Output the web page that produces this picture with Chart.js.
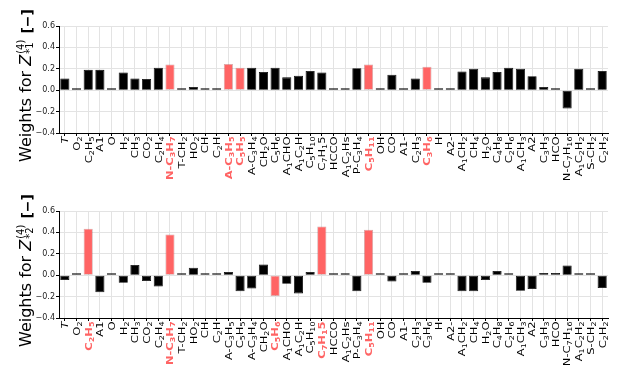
<!DOCTYPE html>
<html><head><meta charset="utf-8">
<script src="https://cdn.jsdelivr.net/npm/chart.js@4.4.1/dist/chart.umd.min.js"></script>
<style>
html,body{margin:0;padding:0;background:#fff;}
canvas{display:block;}
</style></head>
<body>
<canvas id="c1" width="619" height="185"></canvas>
<canvas id="c2" width="619" height="184"></canvas>
<script>
// "_x" = one subscript character, "_{xy}" = subscript group
const categories = ['T','O_2','C_2H_5','A1','O','H_2','CH_3','CO_2','C_2H_4','N-C_3H_7','T-CH_2','HO_2','CH','C_2H','A-C_3H_5','C_5H_5','A-C_3H_4','CH_2O','C_5H_6','A_1CHO','A_1C_2H','C_5H_{10}','C_7H_15','HCCO','A_1C_2Hs','P-C_3H_4','C_5H_{11}','OH','CO','A1-','C_2H_3','C_3H_6','H','A2-','A_1CH_2','CH_4','H_2O','C_4H_8','C_2H_6','A_1CH_3','A2','C_3H_3','HCO','N-C_7H_{16}','A_1C_2H_2','S-CH_2','C_2H_2'];

const weightsZ1 = [0.11,0.01,0.19,0.19,0.01,0.165,0.11,0.105,0.21,0.24,0.01,0.03,0.01,0.01,0.245,0.21,0.21,0.17,0.21,0.12,0.135,0.18,0.165,0.01,0.01,0.205,0.24,0.01,0.145,0.01,0.11,0.22,0.01,0.01,0.175,0.20,0.12,0.17,0.21,0.20,0.13,0.03,0.01,-0.17,0.20,0.01,0.18];

const weightsZ2 = [-0.045,0.005,0.435,-0.16,0.005,-0.07,0.095,-0.055,-0.105,0.38,0.005,0.07,0.005,0.005,0.03,-0.15,-0.125,0.10,-0.195,-0.08,-0.17,0.03,0.455,0.005,0.005,-0.15,0.425,0.005,-0.06,0.005,0.04,-0.07,0.004,0.005,-0.15,-0.15,-0.045,0.04,0.015,-0.145,-0.13,0.02,0.02,0.09,0.015,0.005,-0.12];

const highlightZ1 = ['N-C_3H_7','A-C_3H_5','C_5H_5','C_5H_{11}','C_3H_6'];
const highlightZ2 = ['C_2H_5','N-C_3H_7','C_5H_6','C_7H_15','C_5H_{11}'];

const yTicks = [-0.4,-0.2,0.0,0.2,0.4,0.6];

const RED = '#ff6464';
const FONT = "'DejaVu Sans', sans-serif";
const MAIN = 11.5, SUBSZ = 8, THICK = 0.8;

function parseLabel(s){
  const segs = [];
  let i = 0, buf = '';
  while (i < s.length){
    if (s[i] === '_'){
      if (buf){ segs.push({t:buf,sub:false}); buf=''; }
      if (s[i+1] === '{'){
        const j = s.indexOf('}', i);
        segs.push({t:s.slice(i+2,j),sub:true}); i = j+1;
      } else { segs.push({t:s[i+1],sub:true}); i += 2; }
    } else { buf += s[i]; i++; }
  }
  if (buf) segs.push({t:buf,sub:false});
  return segs;
}

function labelPlugin(highlight){
  return {
    id:'xlabels',
    afterDraw(chart){
      const sc = chart.scales.x, ctx = chart.ctx;
      const y0 = sc.top + 3.5;
      categories.forEach((lab, i) => {
        const hi = highlight.includes(lab);
        const pre = (hi ? 'bold ' : '') + (i===0 ? 'italic ' : '');
        const fm = pre + MAIN + 'px ' + FONT, fs = pre + SUBSZ + 'px ' + FONT;
        const segs = parseLabel(lab);
        let w = 0;
        segs.forEach(sg => { ctx.font = sg.sub ? fs : fm; sg.w = ctx.measureText(sg.t).width; w += sg.w; });
        const x = sc.getPixelForTick(i);
        ctx.save();
        ctx.translate(x + 0.365*MAIN*THICK, y0 + w);
        ctx.rotate(-Math.PI/2);
        ctx.scale(1, THICK);
        ctx.fillStyle = hi ? RED : '#000';
        ctx.textBaseline = 'alphabetic';
        let p = 0;
        segs.forEach(sg => {
          ctx.font = sg.sub ? fs : fm;
          ctx.fillText(sg.t, p, sg.sub ? 2.5 : 0);
          p += sg.w;
        });
        ctx.restore();
      });
    }
  };
}

function titlePlugin(sub){
  return {
    id:'ytitle',
    afterDraw(chart){
      const ctx = chart.ctx;
      ctx.save();
      ctx.translate(31, 162);
      ctx.rotate(-Math.PI/2);
      ctx.fillStyle = '#000';
      ctx.textBaseline = 'alphabetic';
      ctx.font = "16px " + FONT;
      ctx.fillText('Weights for ', 0, 0);
      let x = ctx.measureText('Weights for ').width;
      ctx.font = "italic 16px " + FONT;
      ctx.fillText('Z', x, 0);
      x += ctx.measureText('Z').width + 1;
      ctx.font = "10px " + FONT;
      ctx.fillText('(4)', x, -7.5);
      ctx.fillText('*' + sub, x, 1.5);
      x += Math.max(ctx.measureText('(4)').width, ctx.measureText('*'+sub).width) + 6;
      ctx.font = "bold 14px " + FONT;
      ctx.fillText('[−]', x, 0.5);
      ctx.restore();
    }
  };
}

function makeChart(id, values, highlight, sub, xHeight){
  const colors = categories.map(c => highlight.includes(c) ? RED : '#000');
  const borders = categories.map(c => highlight.includes(c) ? 'rgba(150,60,60,0.45)' : '#000');
  new Chart(document.getElementById(id), {
    type:'bar',
    data:{
      labels:categories,
      datasets:[{
        data:values,
        backgroundColor:colors,
        borderColor:borders,
        borderWidth:0.8,
        borderSkipped:false,
        minBarLength:2,
        barPercentage:0.78,
        categoryPercentage:1.0
      }]
    },
    options:{
      responsive:false,
      animation:false,
      events:[],
      layout:{padding:{top:26,right:11,left:0,bottom:0}},
      plugins:{legend:{display:false},tooltip:{enabled:false},title:{display:false}},
      scales:{
        x:{
          offset:true,
          grid:{offset:false,color:'#e3e3e3',lineWidth:1,drawTicks:true,tickLength:3,tickColor:'#000'},
          border:{display:true,color:'#000',width:1},
          ticks:{display:false,autoSkip:false},
          afterFit(s){ s.height = xHeight; }
        },
        y:{
          min:-0.4,max:0.6,
          afterBuildTicks(s){ s.ticks = yTicks.map(v=>({value:v})); },
          grid:{color:'#e3e3e3',lineWidth:1,drawTicks:true,tickLength:3,tickColor:'#000'},
          border:{display:true,color:'#000',width:1},
          ticks:{
            color:'#222',padding:1,
            font:{family:FONT,size:8},
            callback:(v)=> (v<0?'−':'') + Math.abs(v).toFixed(1)
          },
          afterFit(s){ s.width = 59; }
        }
      }
    },
    plugins:[labelPlugin(highlight), titlePlugin(sub)]
  });
}

makeChart('c1', weightsZ1, highlightZ1, '1', 52);
makeChart('c2', weightsZ2, highlightZ2, '2', 51);
</script>
</body></html>
